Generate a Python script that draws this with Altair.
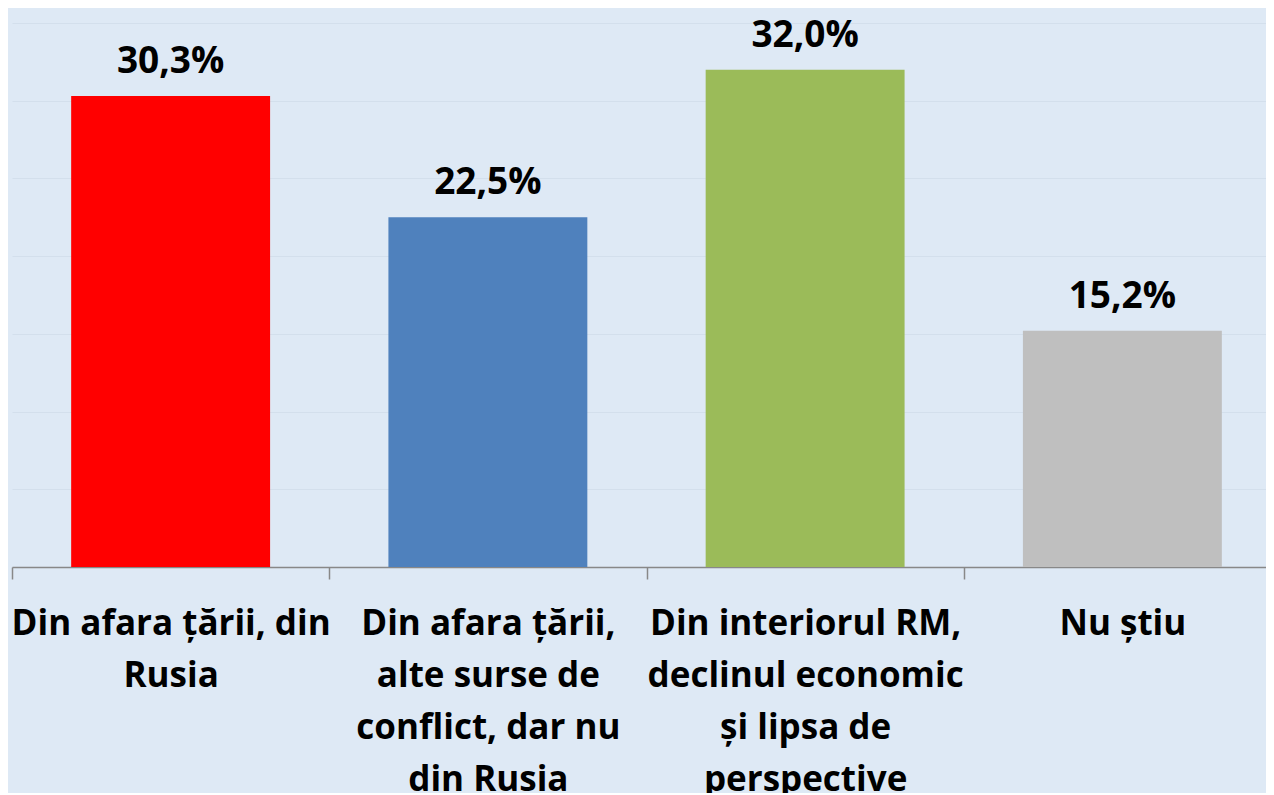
import altair as alt
import pandas as pd

categories = [
    "Din afara țării, din\nRusia",
    "Din afara țării,\nalte surse de\nconflict, dar nu\ndin Rusia",
    "Din interiorul RM,\ndeclinul economic\nși lipsa de\nperspective",
    "Nu știu",
]
values = [30.3, 22.5, 32.0, 15.2]
colors = ["#FF0000", "#4F81BD", "#9BBB59", "#BFBFBF"]

df = pd.DataFrame({"cat": categories, "val": values, "col": colors})

BG = "#DEE9F5"
FONT = "Open Sans"

x = alt.X(
    "cat:N",
    sort=categories,
    title=None,
    scale=alt.Scale(paddingInner=0.373, paddingOuter=0.1865, range=[0, 1269]),
    axis=alt.Axis(
        bandPosition=0,
        tickOffset=-59,
        labelOffset=59,
        labelAngle=0,
        labelFont=FONT,
        labelFontSize=35,
        labelFontWeight="bold",
        labelColor="#000000",
        labelLimit=500,
        labelLineHeight=52,
        labelPadding=27,
        labelBaseline="top",
        labelExpr="split(datum.label, '\\n')",
        tickSize=12,
        tickColor="#888888",
        tickWidth=1.5,
        domainColor="#888888",
        domainWidth=1.5,
        grid=False,
    ),
)

y = alt.Y(
    "val:Q",
    title=None,
    scale=alt.Scale(domain=[0, 35], nice=False),
    axis=alt.Axis(
        values=[0, 5, 10, 15, 20, 25, 30, 35],
        labels=False,
        ticks=False,
        domain=False,
        grid=True,
        gridColor="#D3DFEC",
        gridWidth=1,
    ),
)

bars = alt.Chart(df).mark_bar().encode(
    x=x,
    y=y,
    color=alt.Color("col:N", scale=None),
)

text = alt.Chart(df).transform_calculate(
    lbl="replace(format(datum.val, '.1f'), '.', ',') + '%'"
).mark_text(
    font=FONT, fontSize=37, fontWeight="bold", color="#000000",
    baseline="alphabetic", dy=-23,
).encode(
    x=alt.X("cat:N", sort=categories),
    y="val:Q",
    text="lbl:N",
)

chart = (bars + text).properties(
    width=1254,
    height=544,
    background=BG,
    padding={"left": 4, "top": 15, "right": 0, "bottom": 226},
    autosize=alt.AutoSizeParams(type="none"),
).configure_view(stroke=None, fill=BG)

chart.save("out.html", embed_options={"renderer": "svg", "actions": False})
